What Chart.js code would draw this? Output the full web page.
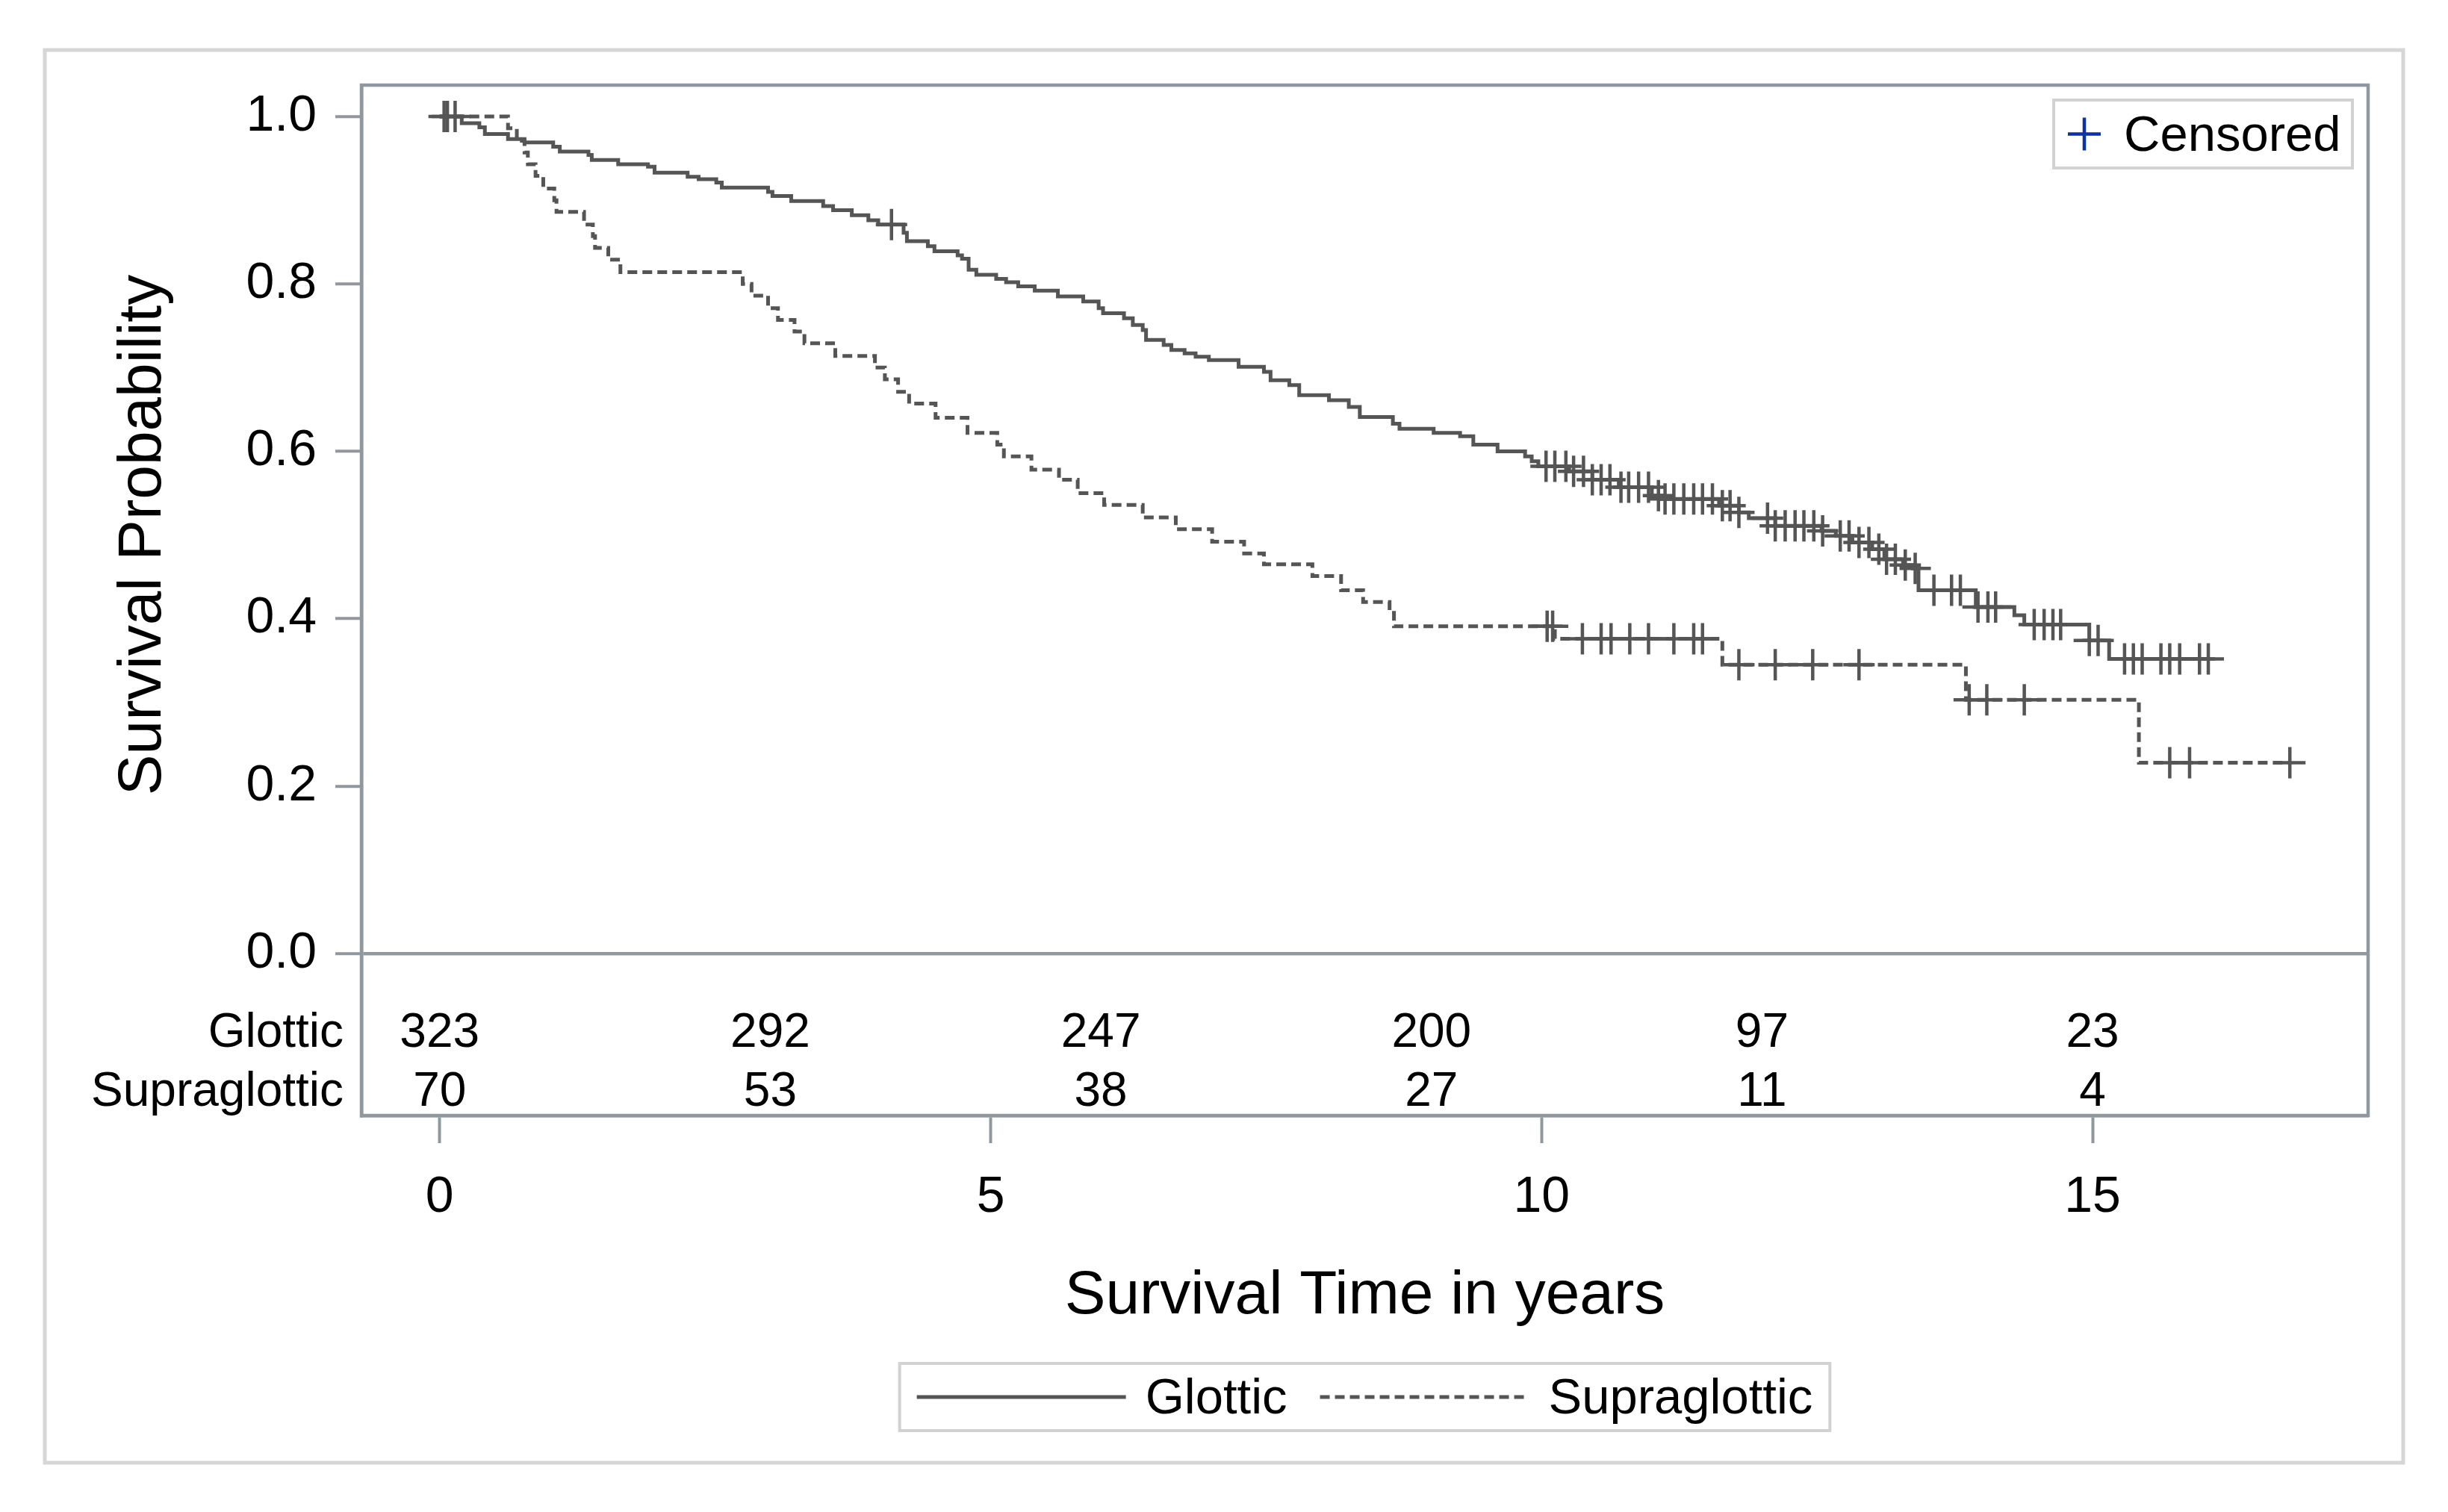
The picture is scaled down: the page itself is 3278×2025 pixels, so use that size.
<!DOCTYPE html>
<html lang="en">
<head>
  <meta charset="UTF-8">
  <title>Survival by tumour site</title>
  <script src="https://cdn.jsdelivr.net/npm/chart.js"></script>
  <style>
    html, body { margin: 0; padding: 0; background: #fff; }
    canvas { display: block; }
  </style>
</head>
<body>
<canvas id="kmChart" width="3278" height="2025"></canvas>
<script>
// Kaplan-Meier steps: time in years and survival just after each drop
const glotticTime = [0, 0.20, 0.36, 0.41, 0.62, 0.77, 1.03, 1.09, 1.35, 1.38, 1.62, 1.89, 1.95, 2.25, 2.35, 2.51, 2.56,
  2.98, 3.02, 3.19, 3.48, 3.57, 3.74, 3.89, 3.98, 4.21, 4.24, 4.43, 4.49, 4.70, 4.74, 4.80, 4.87, 5.05, 5.14, 5.25,
  5.40, 5.61, 5.84, 5.98, 6.02, 6.21, 6.29, 6.38, 6.41, 6.57, 6.64, 6.76, 6.86, 6.98, 7.25, 7.48, 7.54, 7.71, 7.80,
  8.07, 8.25, 8.35, 8.65, 8.71, 9.02, 9.26, 9.38, 9.60, 9.85, 9.91, 9.97, 10.25, 10.46, 10.70, 11.00, 11.09, 11.61,
  11.79, 11.88, 12.12, 12.54, 12.67, 12.82, 13.00, 13.11, 13.28, 13.37, 13.42, 13.94, 14.29, 14.38, 14.97, 15.15, 16.05];
const glotticSurv = [1.000, 0.992, 0.987, 0.979, 0.973, 0.969, 0.964, 0.958, 0.954, 0.948, 0.943, 0.940, 0.933, 0.928, 0.925, 0.921, 0.915,
  0.910, 0.905, 0.899, 0.893, 0.888, 0.882, 0.876, 0.871, 0.861, 0.851, 0.845, 0.839, 0.834, 0.830, 0.817, 0.811, 0.806, 0.802, 0.797,
  0.792, 0.785, 0.779, 0.771, 0.765, 0.759, 0.751, 0.745, 0.733, 0.727, 0.721, 0.717, 0.713, 0.709, 0.701, 0.695, 0.685, 0.679, 0.667,
  0.661, 0.653, 0.641, 0.633, 0.627, 0.622, 0.618, 0.608, 0.600, 0.594, 0.588, 0.582, 0.576, 0.566, 0.557, 0.547, 0.543, 0.535,
  0.527, 0.520, 0.511, 0.505, 0.499, 0.491, 0.483, 0.471, 0.464, 0.460, 0.434, 0.414, 0.404, 0.393, 0.374, 0.352, 0.352];
const glotticCensored = [0.04, 0.07, 4.10, 10.04, 10.12, 10.22, 10.29, 10.38, 10.46, 10.54, 10.62, 10.72, 10.79, 10.88,
  10.97, 11.06, 11.12, 11.20, 11.29, 11.38, 11.46, 11.55, 11.64, 11.71, 11.79, 12.05, 12.12, 12.21, 12.30, 12.38, 12.47,
  12.55, 12.71, 12.79, 12.88, 12.97, 13.06, 13.13, 13.21, 13.30, 13.39, 13.56, 13.72, 13.80, 13.96, 14.05, 14.12, 14.47,
  14.56, 14.64, 14.71, 14.97, 15.05, 15.29, 15.37, 15.45, 15.62, 15.70, 15.79, 15.97, 16.05];

const supraTime = [0, 0.62, 0.70, 0.77, 0.80, 0.87, 0.94, 1.04, 1.06, 1.31, 1.39, 1.41, 1.53, 1.64, 2.75, 2.83, 2.98, 3.07,
  3.22, 3.31, 3.59, 3.95, 4.04, 4.16, 4.26, 4.50, 4.79, 5.06, 5.12, 5.37, 5.62, 5.79, 6.03, 6.38, 6.68, 7.01, 7.30, 7.48,
  7.92, 8.18, 8.38, 8.62, 8.66, 10.12, 11.64, 13.85, 15.42, 16.79];
const supraSurv = [1.000, 0.986, 0.971, 0.957, 0.943, 0.929, 0.914, 0.900, 0.886, 0.871, 0.857, 0.843, 0.829, 0.814, 0.800, 0.786, 0.771, 0.757,
  0.743, 0.729, 0.714, 0.700, 0.686, 0.671, 0.657, 0.640, 0.622, 0.608, 0.594, 0.578, 0.566, 0.550, 0.536, 0.521, 0.507, 0.492, 0.478, 0.465,
  0.451, 0.434, 0.420, 0.407, 0.391, 0.376, 0.345, 0.303, 0.228, 0.228];
const supraCensored = [0.14, 10.05, 10.10, 10.37, 10.54, 10.63, 10.80, 10.97, 11.20, 11.38, 11.46, 11.79, 12.12, 12.46,
  12.88, 13.88, 14.04, 14.38, 15.70, 15.88, 16.79];

// numbers at risk
const riskTimes = [0, 3, 6, 9, 12, 15];
const glotticAtRisk = [323, 292, 247, 200, 97, 23];
const supraAtRisk = [70, 53, 38, 27, 11, 4];

const xTicks = [0, 5, 10, 15];
const yTicks = [0, 0.2, 0.4, 0.6, 0.8, 1.0];

const FONT = '"Liberation Sans", Arial, Helvetica, sans-serif';
const FRAME = '#8f989e';
const INK = '#555555';

function stepPoints(times, surv) {
  return times.map((t, i) => ({ x: t, y: surv[i] }));
}

// a censored subject sits on the curve at the level in force at its time
function levelAt(times, surv, t) {
  let v = surv[0];
  for (let i = 0; i < times.length; i++) {
    if (times[i] <= t) v = surv[i];
  }
  return v;
}

function censorPoints(times, surv, cens) {
  return cens.map(t => ({ x: t, y: levelAt(times, surv, t) }));
}

const sasDecor = {
  id: 'sasDecor',
  beforeDraw(chart) {
    const ctx = chart.ctx;
    ctx.save();
    ctx.fillStyle = '#fff';
    ctx.fillRect(0, 0, chart.width, chart.height);
    ctx.strokeStyle = '#d6d6d6';
    ctx.lineWidth = 5;
    ctx.strokeRect(60, 67, 3158, 1892);
    ctx.restore();
  },
  afterDraw(chart) {
    const { ctx, chartArea: a, scales: { x, y } } = chart;
    ctx.save();

    ctx.strokeStyle = FRAME;
    ctx.lineWidth = 4.5;
    ctx.strokeRect(a.left, a.top, a.right - a.left, a.bottom - a.top);

    // y title, centred on the probability part only
    ctx.save();
    ctx.fillStyle = '#000';
    ctx.font = '82px ' + FONT;
    ctx.textAlign = 'center';
    ctx.textBaseline = 'middle';
    ctx.translate(192, y.getPixelForValue(0.5));
    ctx.rotate(-Math.PI / 2);
    ctx.fillText('Survival Probability', 0, 0);
    ctx.restore();

    // at-risk table inside the box
    ctx.fillStyle = '#000';
    ctx.font = '64px ' + FONT;
    ctx.textBaseline = 'middle';
    const rows = [
      { label: 'Glottic', counts: glotticAtRisk, v: -0.096 },
      { label: 'Supraglottic', counts: supraAtRisk, v: -0.166 }
    ];
    rows.forEach(r => {
      const py = y.getPixelForValue(r.v);
      ctx.textAlign = 'right';
      ctx.fillText(r.label, a.left - 24, py);
      ctx.textAlign = 'center';
      riskTimes.forEach((t, i) => ctx.fillText(String(r.counts[i]), x.getPixelForValue(t), py));
    });

    // "Censored" inset legend
    const bw = 400, bh = 91;
    const bx = a.right - 21 - bw, by = a.top + 20;
    ctx.strokeStyle = '#d2d2d2';
    ctx.lineWidth = 4;
    ctx.strokeRect(bx, by, bw, bh);
    const cx = bx + 41, cy = by + bh / 2;
    ctx.strokeStyle = '#0a33a6';
    ctx.lineWidth = 4.5;
    ctx.beginPath();
    ctx.moveTo(cx - 22, cy); ctx.lineTo(cx + 22, cy);
    ctx.moveTo(cx, cy - 22); ctx.lineTo(cx, cy + 22);
    ctx.stroke();
    ctx.fillStyle = '#000';
    ctx.font = '67px ' + FONT;
    ctx.textAlign = 'left';
    ctx.fillText('Censored', bx + 94, cy + 4);

    // group legend under the axis title
    const lines = chart.data.datasets.filter(d => d.showLine);
    ctx.font = '67px ' + FONT;
    const sample = 280, gapA = 26, gapB = 44, pad = 23;
    let total = pad * 2;
    lines.forEach((d, i) => { total += sample + gapA + ctx.measureText(d.label).width + (i ? 0 : gapB); });
    const lx = (a.left + a.right) / 2 - total / 2, ly = 1826, lh = 90;
    ctx.strokeStyle = '#d2d2d2';
    ctx.lineWidth = 4;
    ctx.strokeRect(lx, ly, total, lh);
    let px = lx + pad;
    const my = ly + lh / 2;
    lines.forEach(d => {
      ctx.strokeStyle = d.borderColor;
      ctx.lineWidth = d.borderWidth;
      ctx.setLineDash(d.borderDash || []);
      ctx.beginPath();
      ctx.moveTo(px, my); ctx.lineTo(px + sample, my);
      ctx.stroke();
      ctx.setLineDash([]);
      px += sample + gapA;
      ctx.fillStyle = '#000';
      ctx.textAlign = 'left';
      ctx.fillText(d.label, px, my + 4);
      px += ctx.measureText(d.label).width + gapB;
    });

    ctx.restore();
  }
};

const ctx = document.getElementById('kmChart').getContext('2d');
const chart = new Chart(ctx, {
  type: 'scatter',
  data: {
    datasets: [{
      label: 'Glottic',
      data: stepPoints(glotticTime, glotticSurv),
      showLine: true,
      stepped: true,
      borderColor: INK,
      borderWidth: 5,
      pointRadius: 0,
      fill: false
    }, {
      label: 'Supraglottic',
      data: stepPoints(supraTime, supraSurv),
      showLine: true,
      stepped: true,
      borderColor: INK,
      borderWidth: 5,
      borderDash: [13, 7],
      pointRadius: 0,
      fill: false
    }, {
      label: 'Glottic censored',
      data: censorPoints(glotticTime, glotticSurv, glotticCensored),
      pointStyle: 'cross',
      pointRadius: 21,
      borderColor: INK,
      borderWidth: 4.5
    }, {
      label: 'Supraglottic censored',
      data: censorPoints(supraTime, supraSurv, supraCensored),
      pointStyle: 'cross',
      pointRadius: 21,
      borderColor: INK,
      borderWidth: 4.5
    }]
  },
  options: {
    responsive: false,
    devicePixelRatio: 1,
    animation: false,
    layout: { padding: { left: 0, top: 114, right: 107, bottom: 0 } },
    plugins: {
      legend: { display: false },
      tooltip: { enabled: false }
    },
    scales: {
      x: {
        type: 'linear',
        min: -0.71,
        max: 17.5,
        afterBuildTicks: s => { s.ticks = xTicks.map(v => ({ value: v })); },
        afterFit: s => { s.height = 531; },
        border: { display: true, color: FRAME, width: 4.5 },
        grid: { drawOnChartArea: false, drawTicks: true, tickLength: 37, tickColor: FRAME, tickWidth: 4 },
        ticks: { color: '#000', font: { family: FONT, size: 68 }, padding: 32, maxRotation: 0 },
        title: { display: true, text: 'Survival Time in years', color: '#000',
                 font: { family: FONT, size: 82 }, padding: { top: 0, bottom: 239 } }
      },
      y: {
        type: 'linear',
        min: -0.1936,
        max: 1.0375,
        afterBuildTicks: s => { s.ticks = yTicks.map(v => ({ value: v })); },
        afterFit: s => { s.width = 484; },
        border: { display: true, color: FRAME, width: 4.5 },
        grid: {
          drawTicks: true,
          tickLength: 35,
          tickColor: FRAME,
          tickWidth: 4,
          lineWidth: 4.5,
          color: c => (c.tick && c.tick.value === 0 ? FRAME : 'rgba(0,0,0,0)')
        },
        ticks: { color: '#000', font: { family: FONT, size: 68 }, padding: 25,
                 callback: v => Number(v).toFixed(1) }
      }
    }
  },
  plugins: [sasDecor]
});
</script>
</body>
</html>
